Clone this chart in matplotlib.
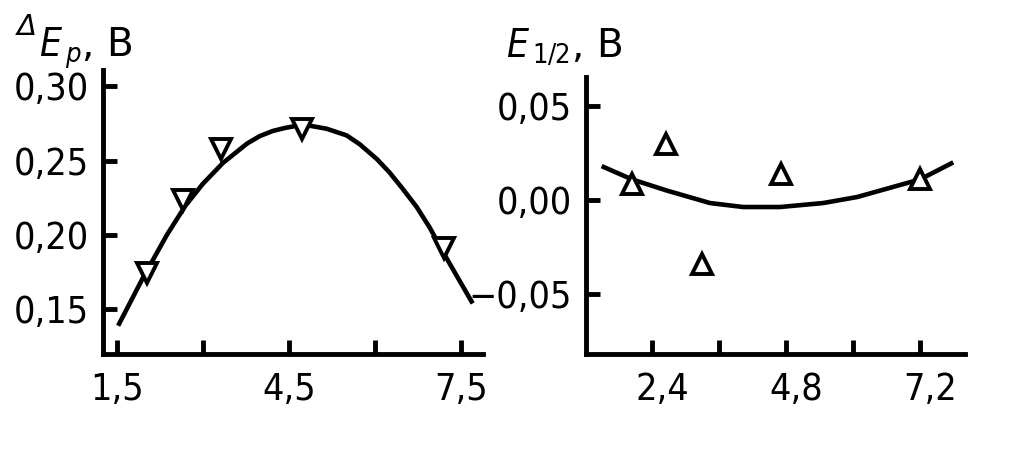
import matplotlib

matplotlib.use("Agg")
import matplotlib.pyplot as plt
import matplotlib.transforms as mtransforms

# left panel: peak separation
dep_x = [2.02, 2.65, 3.31, 4.73, 7.21]
dep_y = [0.1745, 0.2238, 0.2577, 0.2711, 0.1916]
dep_curve_x = [1.52, 1.95, 2.37, 2.69, 3.0, 3.35, 3.77, 3.99, 4.22, 4.43, 4.64, 4.87, 5.16, 5.51, 5.74, 6.04,
               6.26, 6.49, 6.73, 6.96, 7.26, 7.71]
dep_curve_y = [0.139, 0.171, 0.200, 0.2195, 0.2345, 0.2485, 0.2615, 0.2665, 0.270, 0.272, 0.2735, 0.2735,
               0.2715, 0.267, 0.261, 0.251, 0.242, 0.231, 0.219, 0.205, 0.184, 0.154]
dep_xticks = [1.5, 3.0, 4.5, 6.0, 7.5]
dep_xlabels = ["1,5", "", "4,5", "", "7,5"]
dep_yticks = [0.15, 0.20, 0.25, 0.30]
dep_ylabels = ["0,15", "0,20", "0,25", "0,30"]

# right panel: half-wave potential
e12_x = [2.04, 2.645, 3.30, 4.71, 7.20]
e12_y = [0.0085, 0.0296, -0.0339, 0.0138, 0.0111]
e12_curve_x = [1.50, 2.04, 2.67, 3.44, 4.03, 4.69, 5.46, 6.07, 7.20, 7.79]
e12_curve_y = [0.018, 0.011, 0.005, -0.0016, -0.0037, -0.0037, -0.0016, 0.0016, 0.011, 0.020]
e12_xticks = [2.4, 3.6, 4.8, 6.0, 7.2]
e12_xlabels = ["2,4", "", "4,8", "", "7,2"]
e12_yticks = [-0.05, 0.0, 0.05]
e12_ylabels = ["\u22120,05", "0,00", "0,05"]

FS = 27
LW = 3.5

plt.rcParams["font.family"] = ["DejaVu Sans"]
plt.rcParams["font.stretch"] = "condensed"
plt.rcParams["mathtext.fontset"] = "dejavusans"

fig = plt.figure(figsize=(10.24, 4.49), dpi=100)
ax1 = fig.add_axes([103 / 1024, 95 / 449, 380 / 1024, 284 / 449])
ax2 = fig.add_axes([586 / 1024, 95 / 449, 379 / 1024, 277 / 449])


def style(ax, xticks, xlabels, yticks, ylabels):
    for side in ("top", "right"):
        ax.spines[side].set_visible(False)
    for side in ("left", "bottom"):
        ax.spines[side].set_linewidth(LW)
        ax.spines[side].set_capstyle("projecting")
    ax.set_xticks(xticks)
    ax.set_xticklabels(xlabels)
    ax.set_yticks(yticks)
    ax.set_yticklabels(ylabels)
    ax.tick_params(direction="in", length=10, width=LW, labelsize=FS, pad=10)
    ax.tick_params(axis="x", pad=13)


ax1.plot(dep_curve_x, dep_curve_y, color="black", lw=3.3, solid_capstyle="butt", zorder=2)
ax1.plot(dep_x, dep_y, linestyle="none", marker="v", ms=14.5, mfc="white", mec="black", mew=2.8, zorder=3)
ax1.set_xlim(1.256, 7.89)
ax1.set_ylim(0.12, 0.311)
style(ax1, dep_xticks, dep_xlabels, dep_yticks, dep_ylabels)

ax2.plot(e12_curve_x, e12_curve_y, color="black", lw=3.3, solid_capstyle="butt", zorder=2)
ax2.plot(e12_x, e12_y, linestyle="none", marker="^", ms=14.5, mfc="white", mec="black", mew=2.8, zorder=3)
ax2.set_xlim(1.22, 8.0)
ax2.set_ylim(-0.0817, 0.0653)
style(ax2, e12_xticks, e12_xlabels, e12_yticks, e12_ylabels)
shift = mtransforms.ScaledTranslation(10 / 100, 0, fig.dpi_scale_trans)
for lab in ax2.get_xticklabels():
    lab.set_transform(lab.get_transform() + shift)

base = (449 - 57) / 449
fig.text(17 / 1024, (449 - 35) / 449, "\u0394", fontsize=21, style="italic", va="baseline", ha="left",
         fontstretch="normal")
fig.text(39 / 1024, base, r"$E_{\,p}$, В", fontsize=28, va="baseline", ha="left", fontstretch="normal")
fig.text(506 / 1024, base, r"$E_{\,\mathit{1/2}}$, В", fontsize=28, va="baseline", ha="left",
         fontstretch="normal")

fig.savefig("out.png", dpi=100)
